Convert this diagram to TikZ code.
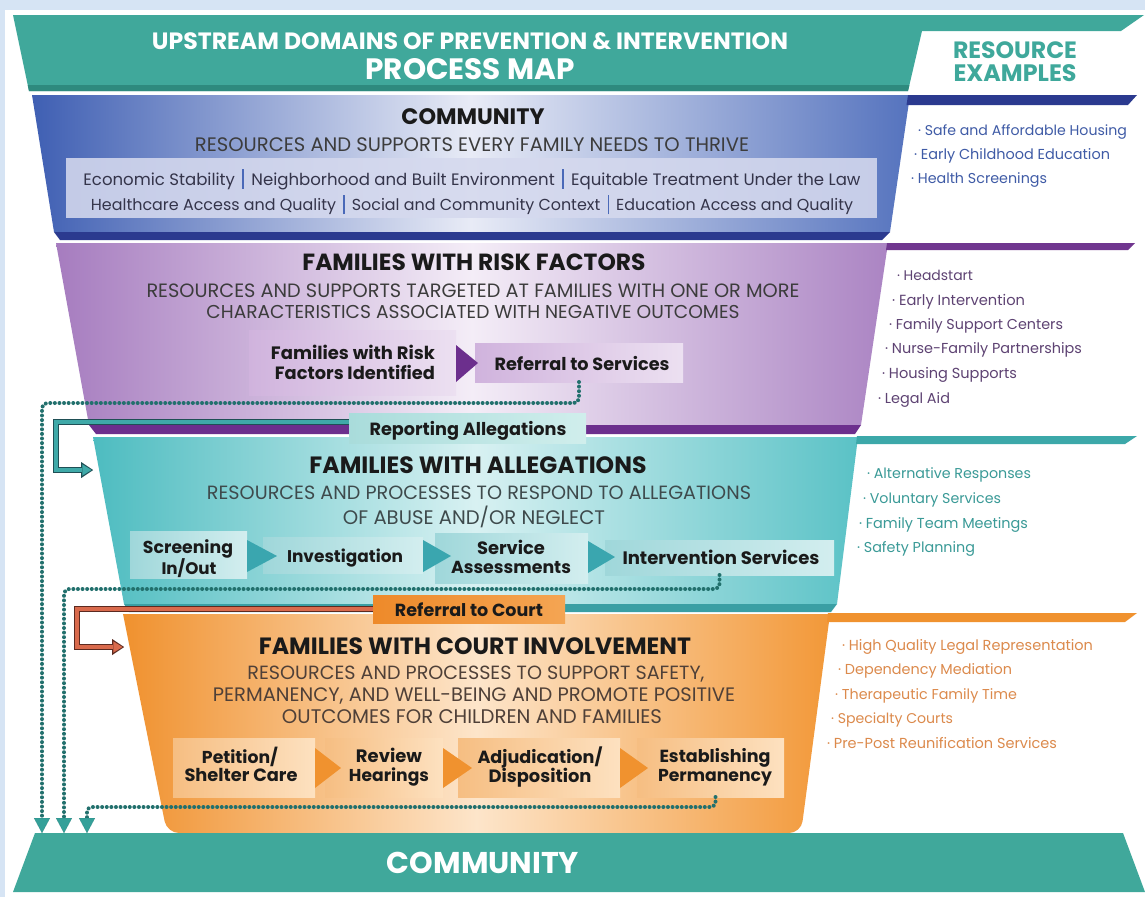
\documentclass[tikz,border=0pt]{standalone}
\usepackage{fontspec}
\setmainfont{Poppins}
\usepackage{graphicx}
\usetikzlibrary{arrows.meta,calc}
\definecolor{bgblue}{HTML}{D6E4F4}
\definecolor{hdteal}{HTML}{40A89B}
\definecolor{hddark}{HTML}{2E8A7E}
\definecolor{cblueL}{HTML}{3F5FB3}
\definecolor{cblueR}{HTML}{5573BE}
\definecolor{cblueM}{HTML}{E8EBF6}
\definecolor{cnavy}{HTML}{2B3A8F}
\definecolor{cbox}{HTML}{D5D9EE}
\definecolor{sepblue}{HTML}{4A69B8}
\definecolor{pL}{HTML}{A67CBF}
\definecolor{pR}{HTML}{AB84C3}
\definecolor{pM}{HTML}{F4EDF7}
\definecolor{pdark}{HTML}{6C2F8D}
\definecolor{pbar}{HTML}{70368F}
\definecolor{pboxL}{HTML}{D0B3DD}
\definecolor{pboxR}{HTML}{ECE0F1}
\definecolor{tL}{HTML}{4DBCC0}
\definecolor{tR}{HTML}{5AC2C6}
\definecolor{tM}{HTML}{D8F1F2}
\definecolor{tdark}{HTML}{3A9FA4}
\definecolor{tbar}{HTML}{3CA8A9}
\definecolor{tboxL}{HTML}{9FD7DA}
\definecolor{tboxR}{HTML}{D3EEEF}
\definecolor{ttri}{HTML}{3AA6AF}
\definecolor{oL}{HTML}{F0912E}
\definecolor{oR}{HTML}{F29838}
\definecolor{oM}{HTML}{FDE5CA}
\definecolor{obar}{HTML}{F0922F}
\definecolor{oboxL}{HTML}{F6BE82}
\definecolor{oboxR}{HTML}{FDE1C0}
\definecolor{otri}{HTML}{F0922F}
\definecolor{rcL}{HTML}{EE8A2A}
\definecolor{rcR}{HTML}{F4A553}
\definecolor{raL}{HTML}{A9DCDB}
\definecolor{raR}{HTML}{D0EEEC}
\definecolor{dotteal}{HTML}{22706D}
\definecolor{arrteal}{HTML}{34A099}
\definecolor{conndark}{HTML}{1F4F55}
\definecolor{connteal}{HTML}{3FA9A8}
\definecolor{ocdark}{HTML}{5C2A20}
\definecolor{ocsalmon}{HTML}{D96A4C}
\definecolor{txtdark}{HTML}{1A1A1A}
\definecolor{bodygray}{HTML}{3C3C3C}
\definecolor{domgray}{HTML}{34344A}
\definecolor{alggray}{HTML}{3E4A4C}
\definecolor{crtgray}{HTML}{4F4038}
\definecolor{itblue}{HTML}{3F5BA6}
\definecolor{itpurple}{HTML}{5E4373}
\definecolor{itteal}{HTML}{3A9A97}
\definecolor{itorange}{HTML}{DC8A4C}
\definecolor{resteal}{HTML}{3FA89B}
\newcommand{\fw}[2]{\raisebox{0pt}[\height][0pt]{\resizebox{#1pt}{!}{#2}}}
\newcommand{\sepbar}{\hspace{0.45em}{\color{sepblue}\rule[-0.22em]{0.09em}{1.2em}}\hspace{0.45em}}
\begin{document}
\begin{tikzpicture}[x=1pt,y=-1pt,
  lbl/.style={inner sep=0pt, outer sep=0pt, anchor=center},
  item/.style={inner sep=0pt, outer sep=0pt, anchor=west},
  ttl/.style={lbl, text=txtdark, font=\bfseries},
  bxt/.style={lbl, text=txtdark, font=\bfseries},
  box/.style={inner sep=0pt, outer sep=0pt, draw=none, anchor=north west},
  dotline/.style={draw=dotteal, line width=4pt, line cap=round, dash pattern=on 0pt off 4.6pt, rounded corners=5pt,
     -{Triangle[width=16pt,length=15pt,line width=0.01pt,fill=arrteal]}},
  connout/.style={line width=6pt, -{Triangle[width=16pt,length=12pt,line width=0.01pt]}},
  connin/.style={line width=3.4pt, shorten >=1.6pt, -{Triangle[width=11pt,length=9pt,line width=0.01pt]}}
]
\useasboundingbox (0,0) rectangle (1145,897);
\fill[bgblue] (0,0) rectangle (1145,897);
\fill[white] (5,10) rectangle (1145,897);

% header
\fill[hdteal] (13,15) -- (1144,15) -- (1121,31) -- (922,31) -- (908,91) -- (29,91) -- cycle;
\fill[hddark] (27.7,85) -- (909.4,85) -- (908,91) -- (29,91) -- cycle;
\node[lbl, text=white, font=\bfseries] (hd1) at (470,41) {\fw{636}{UPSTREAM DOMAINS OF PREVENTION \& INTERVENTION}};
\node[lbl, text=white, font=\bfseries] (hd2) at (470,69) {\fw{209}{PROCESS MAP}};
\node[lbl, text=resteal, font=\bfseries] (re1) at (1015,50) {\fw{124}{RESOURCE}};
\node[lbl, text=resteal, font=\bfseries] (re2) at (1015,73) {\fw{123}{EXAMPLES}};

% community level
\shade[left color=cblueL, right color=cblueR, middle color=cblueM] (32,95) -- (910,95) -- (890,232) -- (54,232) -- cycle;
\fill[cnavy] (54,232) -- (890,232) -- (882,240) -- (60,240) -- cycle;
\fill[cnavy] (908,95) -- (1137,95) -- (1128,105) -- (906.5,105) -- cycle;
\fill[cbox, opacity=0.88] (66,158) rectangle (877,218);
\node[ttl] (c1) at (473,117) {\fw{143}{COMMUNITY}};
\node[lbl, text=bodygray] (c2) at (472,145) {\fw{554}{RESOURCES AND SUPPORTS EVERY FAMILY NEEDS TO THRIVE}};
\node[lbl, text=domgray] (c3) at (472,177) {\fw{777}{Economic Stability\sepbar Neighborhood and Built Environment\sepbar Equitable Treatment Under the Law}};
\node[lbl, text=domgray] (c4) at (472,203) {\fw{762}{Healthcare Access and Quality\sepbar Social and Community Context\sepbar Education Access and Quality}};

% risk level
\shade[left color=pL, right color=pR, middle color=pM] (56,243) -- (888,243) -- (861,425) -- (89,425) -- cycle;
\fill[pdark] (89,425) -- (861,425) -- (855,434) -- (96,434) -- cycle;
\fill[pbar] (887,243) -- (1135,243) -- (1128,250) -- (886,250) -- cycle;
\node[ttl] (r1) at (474,262) {\fw{343}{FAMILIES WITH RISK FACTORS}};
\node[lbl, text=bodygray] (r2) at (473,291) {\fw{653}{RESOURCES AND SUPPORTS TARGETED AT FAMILIES WITH ONE OR MORE}};
\node[lbl, text=bodygray] (r3) at (473,312) {\fw{533}{CHARACTERISTICS ASSOCIATED WITH NEGATIVE OUTCOMES}};

% allegations level
\shade[left color=tL, right color=tR, middle color=tM] (93,437) -- (858,437) -- (837,604) -- (124,604) -- cycle;
\fill[tdark] (124,604) -- (837,604) -- (831,612) -- (129,612) -- cycle;
\fill[tbar] (857,436) -- (1137,436) -- (1125,444) -- (856,444) -- cycle;
\node[ttl] (a1) at (478,465) {\fw{337}{FAMILIES WITH ALLEGATIONS}};
\node[lbl, text=alggray] (a2) at (479,493) {\fw{544}{RESOURCES AND PROCESSES TO RESPOND TO ALLEGATIONS}};
\node[lbl, text=alggray] (a3) at (474,515) {\fw{262}{OF ABUSE AND/OR NEGLECT}};

% court level
\shade[left color=oL, right color=oR, middle color=oM] (123,614) -- (830,614) {[rounded corners=12pt] -- (801,833) -- (167,833)} -- cycle;
\fill[obar] (828,613) -- (1137,613) -- (1125,622) -- (827,622) -- cycle;
\node[ttl] (k1) at (475,646) {\fw{432}{FAMILIES WITH COURT INVOLVEMENT}};
\node[lbl, text=crtgray] (k2) at (476,673) {\fw{457}{RESOURCES AND PROCESSES TO SUPPORT SAFETY,}};
\node[lbl, text=crtgray] (k3) at (474,695) {\fw{522}{PERMANENCY, AND WELL-BEING AND PROMOTE POSITIVE}};
\node[lbl, text=crtgray] (k4) at (472,717) {\fw{380}{OUTCOMES FOR CHILDREN AND FAMILIES}};

% bottom community band
\fill[hdteal] (35,833) -- (1123,833) -- (1145,892) -- (13,892) -- cycle;
\node[lbl, text=white, font=\bfseries] (b1) at (483,863) {\fw{192}{COMMUNITY}};

% process boxes
\node[box, minimum width=207pt, minimum height=65pt, left color=pboxL, right color=pboxR] (fam) at (249,330) {};
\node[box, minimum width=208pt, minimum height=39pt, left color=pboxL, right color=pboxR] (refserv) at (475,343) {};
\fill[pdark] (456,345) -- (478,363) -- (456,382) -- cycle;
\node[box, minimum width=237pt, minimum height=30pt, left color=raL, right color=raR] (repall) at (349,413) {};

\node[box, minimum width=117pt, minimum height=47pt, left color=tboxL, right color=tboxR] (scr) at (130,531) {};
\node[box, minimum width=160pt, minimum height=36pt, left color=tboxL, right color=tboxR] (inv) at (263,537) {};
\node[box, minimum width=153pt, minimum height=50pt, left color=tboxL, right color=tboxR] (serv) at (435,533) {};
\node[box, minimum width=229pt, minimum height=35pt, left color=tboxL, right color=tboxR] (intv) at (605,540) {};
\fill[ttri] (247,540) -- (277,556) -- (247,572) -- cycle;
\fill[ttri] (423,540) -- (451,556) -- (423,572) -- cycle;
\fill[ttri] (588,541) -- (615,557) -- (588,573) -- cycle;
\node[box, minimum width=192pt, minimum height=28pt, left color=rcL, right color=rcR] (refcourt) at (373,595) {};

\node[box, minimum width=142pt, minimum height=59pt, left color=oboxL, right color=oboxR] (pet) at (173,738) {};
\node[box, minimum width=118pt, minimum height=59pt, left color=oboxL, right color=oboxR] (rev) at (325,738) {};
\node[box, minimum width=162pt, minimum height=59pt, left color=oboxL, right color=oboxR] (adj) at (458,738) {};
\node[box, minimum width=147pt, minimum height=59pt, left color=oboxL, right color=oboxR] (est) at (637,738) {};
\fill[otri] (315,748) -- (341,768) -- (315,788) -- cycle;
\fill[otri] (443,748) -- (472,768) -- (443,788) -- cycle;
\fill[otri] (620,748) -- (648,768) -- (620,788) -- cycle;

% box texts
\node[bxt] (famt1) at (353,352) {\fw{164}{Families with Risk}};
\node[bxt] (famt2) at (355,372) {\fw{160}{Factors Identified}};
\node[bxt] (rst) at (582,363) {\fw{175}{Referral to Services}};
\node[bxt] (rat) at (468,428) {\fw{197}{Reporting Allegations}};
\node[bxt] (scrt1) at (188,547) {\fw{90}{Screening}};
\node[bxt] (scrt2) at (189,567) {\fw{55}{In/Out}};
\node[bxt] (invt) at (345,556) {\fw{116}{Investigation}};
\node[bxt] (servt1) at (511,547) {\fw{68}{Service}};
\node[bxt] (servt2) at (511,567) {\fw{120}{Assessments}};
\node[bxt] (intvt) at (721,557) {\fw{197}{Intervention Services}};
\node[bxt] (rct) at (469,610) {\fw{148}{Referral to Court}};
\node[bxt] (pett1) at (240,755) {\fw{76}{Petition/}};
\node[bxt] (pett2) at (241,775) {\fw{113}{Shelter Care}};
\node[bxt] (revt1) at (389,755) {\fw{66}{Review}};
\node[bxt] (revt2) at (389,775) {\fw{80}{Hearings}};
\node[bxt] (adjt1) at (540,755) {\fw{125}{Adjudication/}};
\node[bxt] (adjt2) at (540,775) {\fw{103}{Disposition}};
\node[bxt] (estt1) at (715,755) {\fw{111}{Establishing}};
\node[bxt] (estt2) at (715,775) {\fw{114}{Permanency}};

% connectors
\coordinate (tip1) at (42,833);
\coordinate (tip2) at (64,833);
\coordinate (tip3) at (87,833);
\coordinate (tipR) at (93,470);
\coordinate (tipC) at (124,647);
\draw[dotline] (refserv.south) -- ++(0,21) -- (42,403) -- (tip1);
\draw[dotline] (intv.south) -- ++(0,14) -- (64,589) -- (tip2);
\draw[dotline] ($(est.south)+(5,0)$) -- ++(0,10) -- (87,807) -- (tip3);
\draw[connout, draw=conndark] ($(repall.west)+(0,-6)$) -- (56,422) -- (56,470) -- (tipR);
\draw[connin, draw=connteal] ($(repall.west)+(0,-6)$) -- (56,422) -- (56,470) -- (tipR);
\draw[connout, draw=ocdark] (refcourt.west) -- (77,609) -- (77,647) -- (tipC);
\draw[connin, draw=ocsalmon] (refcourt.west) -- (77,609) -- (77,647) -- (tipC);

% resource examples
\node[item, text=itblue] (e1) at (918,130) {\fw{209}{· Safe and Affordable Housing}};
\node[item, text=itblue] (e2) at (914,154) {\fw{196}{· Early Childhood Education}};
\node[item, text=itblue] (e3) at (911,178) {\fw{136}{· Health Screenings}};
\node[item, text=itpurple] (e4) at (897,275) {\fw{76}{· Headstart}};
\node[item, text=itpurple] (e5) at (892,300) {\fw{133}{· Early Intervention}};
\node[item, text=itpurple] (e6) at (889,324) {\fw{174}{· Family Support Centers}};
\node[item, text=itpurple] (e7) at (885,348) {\fw{197}{· Nurse-Family Partnerships}};
\node[item, text=itpurple] (e8) at (882,373) {\fw{135}{· Housing Supports}};
\node[item, text=itpurple] (e9) at (878,398) {\fw{72}{· Legal Aid}};
\node[item, text=itteal] (e10) at (867,473) {\fw{164}{· Alternative Responses}};
\node[item, text=itteal] (e11) at (863,498) {\fw{138}{· Voluntary Services}};
\node[item, text=itteal] (e12) at (859,523) {\fw{169}{· Family Team Meetings}};
\node[item, text=itteal] (e13) at (857,547) {\fw{118}{· Safety Planning}};
\node[item, text=itorange] (e14) at (842,645) {\fw{251}{· High Quality Legal Representation}};
\node[item, text=itorange] (e15) at (838,669) {\fw{174}{· Dependency Mediation}};
\node[item, text=itorange] (e16) at (835,694) {\fw{182}{· Therapeutic Family Time}};
\node[item, text=itorange] (e17) at (831,718) {\fw{122}{· Specialty Courts}};
\node[item, text=itorange] (e18) at (827,743) {\fw{230}{· Pre-Post Reunification Services}};
\end{tikzpicture}
\end{document}
